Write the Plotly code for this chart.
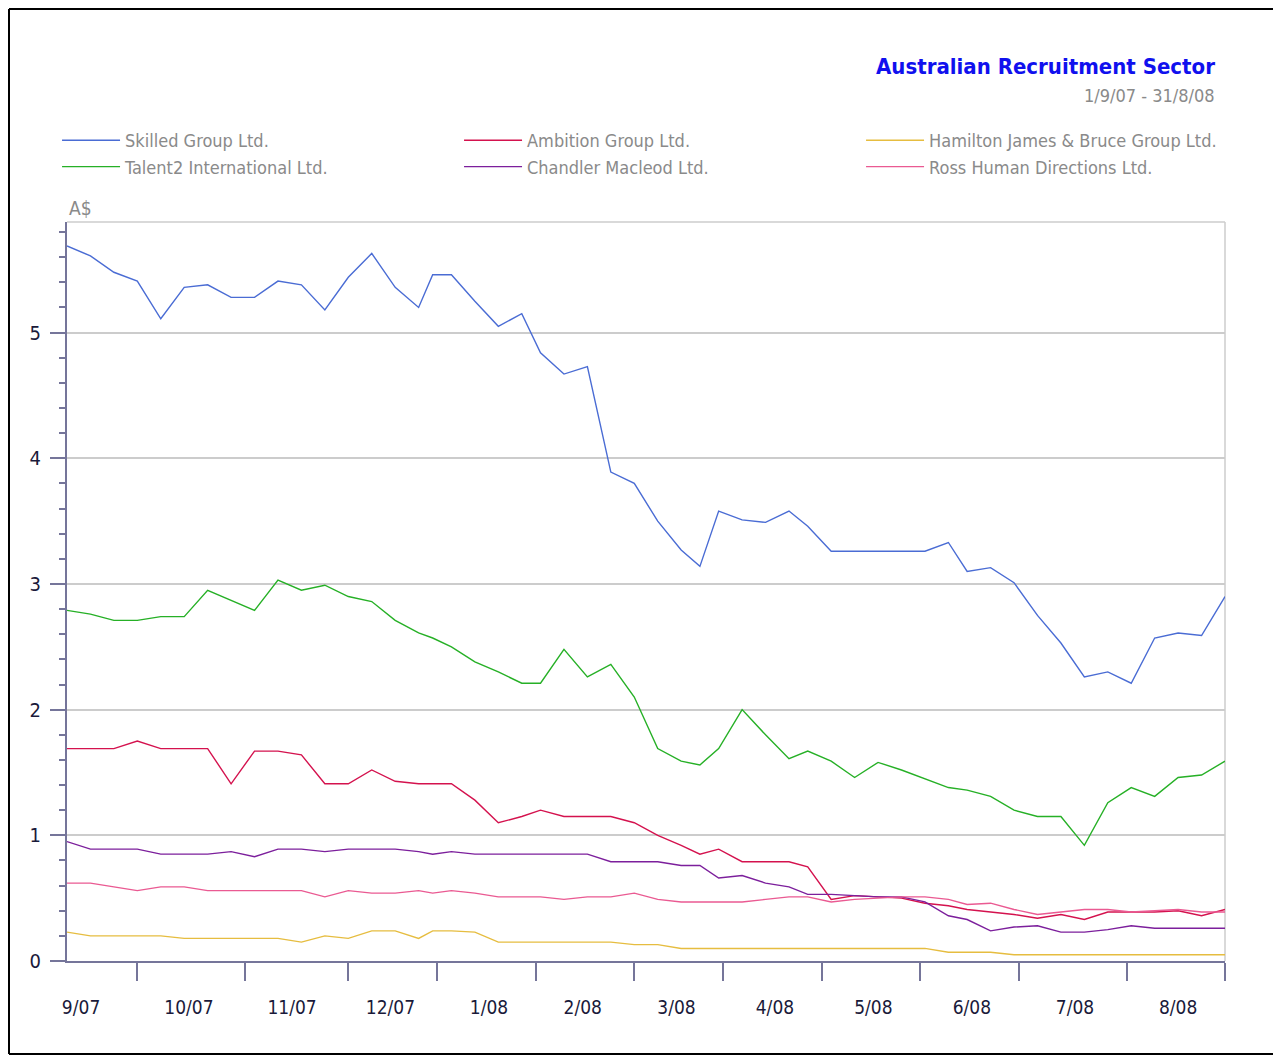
import plotly.graph_objects as go

# ---------------- data ----------------
dates = [
    "2007-09-10", "2007-09-17", "2007-09-24", "2007-10-01", "2007-10-08", "2007-10-15",
    "2007-10-22", "2007-10-29", "2007-11-05", "2007-11-12", "2007-11-19", "2007-11-26",
    "2007-12-03", "2007-12-10", "2007-12-17", "2007-12-24", "2007-12-31", "2008-01-07",
    "2008-01-14", "2008-01-21", "2008-01-29", "2008-02-04", "2008-02-11", "2008-02-18",
    "2008-02-25", "2008-03-03", "2008-03-10", "2008-03-17", "2008-03-25", "2008-03-31",
    "2008-04-07", "2008-04-14", "2008-04-21", "2008-04-28", "2008-05-05", "2008-05-12",
    "2008-05-19", "2008-05-26", "2008-06-02", "2008-06-10", "2008-06-16", "2008-06-23",
    "2008-06-30", "2008-07-07", "2008-07-14", "2008-07-21", "2008-07-28", "2008-08-04",
    "2008-08-11", "2008-08-18", "2008-08-25", "2008-09-01",
]

skilled = [5.69, 5.61, 5.48, 5.41, 5.11, 5.36, 5.38, 5.28, 5.28, 5.41, 5.38, 5.18,
           5.44, 5.63, 5.36, 5.20, 5.46, 5.46, 5.25, 5.05, 5.15, 4.84, 4.67, 4.73,
           3.89, 3.80, 3.50, 3.27, 3.14, 3.58, 3.51, 3.49, 3.58, 3.46, 3.26, 3.26,
           3.26, 3.26, 3.26, 3.33, 3.10, 3.13, 3.01, 2.75, 2.53, 2.26, 2.30, 2.21,
           2.57, 2.61, 2.59, 2.90]
talent2 = [2.79, 2.76, 2.71, 2.71, 2.74, 2.74, 2.95, 2.87, 2.79, 3.03, 2.95, 2.99,
           2.90, 2.86, 2.71, 2.61, 2.57, 2.50, 2.38, 2.30, 2.21, 2.21, 2.48, 2.26,
           2.36, 2.10, 1.69, 1.59, 1.56, 1.69, 2.00, 1.80, 1.61, 1.67, 1.59, 1.46,
           1.58, 1.52, 1.45, 1.38, 1.36, 1.31, 1.20, 1.15, 1.15, 0.92, 1.26, 1.38,
           1.31, 1.46, 1.48, 1.59]
ambition = [1.69, 1.69, 1.69, 1.75, 1.69, 1.69, 1.69, 1.41, 1.67, 1.67, 1.64, 1.41,
            1.41, 1.52, 1.43, 1.41, 1.41, 1.41, 1.28, 1.10, 1.15, 1.20, 1.15, 1.15,
            1.15, 1.10, 1.00, 0.92, 0.85, 0.89, 0.79, 0.79, 0.79, 0.75, 0.49, 0.52,
            0.51, 0.50, 0.46, 0.44, 0.41, 0.39, 0.37, 0.34, 0.37, 0.33, 0.39, 0.39,
            0.39, 0.40, 0.36, 0.41]
chandler = [0.95, 0.89, 0.89, 0.89, 0.85, 0.85, 0.85, 0.87, 0.83, 0.89, 0.89, 0.87,
            0.89, 0.89, 0.89, 0.87, 0.85, 0.87, 0.85, 0.85, 0.85, 0.85, 0.85, 0.85,
            0.79, 0.79, 0.79, 0.76, 0.76, 0.66, 0.68, 0.62, 0.59, 0.53, 0.53, 0.52,
            0.51, 0.51, 0.47, 0.36, 0.33, 0.24, 0.27, 0.28, 0.23, 0.23, 0.25, 0.28,
            0.26, 0.26, 0.26, 0.26]
ross = [0.62, 0.62, 0.59, 0.56, 0.59, 0.59, 0.56, 0.56, 0.56, 0.56, 0.56, 0.51,
        0.56, 0.54, 0.54, 0.56, 0.54, 0.56, 0.54, 0.51, 0.51, 0.51, 0.49, 0.51,
        0.51, 0.54, 0.49, 0.47, 0.47, 0.47, 0.47, 0.49, 0.51, 0.51, 0.47, 0.49,
        0.50, 0.51, 0.51, 0.49, 0.45, 0.46, 0.41, 0.37, 0.39, 0.41, 0.41, 0.39,
        0.40, 0.41, 0.39, 0.39]
hamilton = [0.23, 0.20, 0.20, 0.20, 0.20, 0.18, 0.18, 0.18, 0.18, 0.18, 0.15, 0.20,
            0.18, 0.24, 0.24, 0.18, 0.24, 0.24, 0.23, 0.15, 0.15, 0.15, 0.15, 0.15,
            0.15, 0.13, 0.13, 0.10, 0.10, 0.10, 0.10, 0.10, 0.10, 0.10, 0.10, 0.10,
            0.10, 0.10, 0.10, 0.07, 0.07, 0.07, 0.05, 0.05, 0.05, 0.05, 0.05, 0.05,
            0.05, 0.05, 0.05, 0.05]

# non-trading days (ASX holidays) removed from the time axis
holidays = ["2007-12-25", "2007-12-26", "2008-01-01", "2008-01-28",
            "2008-03-21", "2008-03-24", "2008-04-25", "2008-06-09"]

# month labels and the dates where they are centred
month_labels = ["9/07", "10/07", "11/07", "12/07", "1/08", "2/08",
                "3/08", "4/08", "5/08", "6/08", "7/08", "8/08"]
month_label_dates = ["2007-09-13", "2007-10-16", "2007-11-15", "2007-12-14",
                     "2008-01-17", "2008-02-15", "2008-03-14", "2008-04-16",
                     "2008-05-16", "2008-06-17", "2008-07-17", "2008-08-18"]

series = [
    ("Skilled Group Ltd.", skilled, "#4a6cd4"),
    ("Ambition Group Ltd.", ambition, "#d4124e"),
    ("Hamilton James & Bruce Group Ltd.", hamilton, "#e6bd40"),
    ("Talent2 International Ltd.", talent2, "#26b026"),
    ("Chandler Macleod Ltd.", chandler, "#7c1f9c"),
    ("Ross Human Directions Ltd.", ross, "#ea5a92"),
]

title_text = "Australian Recruitment Sector"
subtitle_text = "1/9/07 - 31/8/08"
unit_text = "A$"

# ---------------- layout constants ----------------
W, H = 1265, 1047
ML, MR, MT, MB = 59, 48, 214, 94
PW, PH = W - ML - MR, H - MT - MB
FONT = "DejaVu Sans Condensed, Roboto, Arial, sans-serif"
AXIS_C = "#75759a"
GRID_C = "#cccccc"

fig = go.Figure()
for name, vals, col in series:
    fig.add_trace(go.Scatter(x=dates, y=vals, name=name, mode="lines",
                             line=dict(color=col, width=1.4)))

fig.update_layout(
    width=W, height=H,
    margin=dict(l=ML, r=MR, t=MT, b=MB, pad=0),
    paper_bgcolor="white", plot_bgcolor="white",
    font=dict(family=FONT, size=18, color="#222244"),
    showlegend=True,
    legend=dict(orientation="h", x=-0.0086, y=1 + 100 / PH, xanchor="left", yanchor="top",
                entrywidth=329, entrywidthmode="pixels", itemwidth=58,
                font=dict(family=FONT, size=18, color="#8a8a8a"),
                bgcolor="rgba(0,0,0,0)", tracegroupgap=0),
    xaxis=dict(
        type="date",
        range=[dates[0], dates[-1]],
        rangebreaks=[dict(bounds=["sat", "mon"]), dict(values=holidays)],
        tickmode="array", tickvals=month_label_dates, ticktext=month_labels,
        ticks="", ticklen=0,
        minor=dict(dtick="M1", tick0="2007-09-01", ticks="outside", ticklen=18,
                   tickwidth=1.5, tickcolor=AXIS_C, showgrid=False),
        showline=True, linecolor=AXIS_C, linewidth=2,
        showgrid=False, zeroline=False,
        tickfont=dict(family=FONT, size=19, color="#1a1a3a"),
        ticklabelstandoff=28,
    ),
    yaxis=dict(
        range=[0, 5.88], dtick=1, tick0=0,
        ticks="outside", ticklen=15, tickwidth=1.5, tickcolor=AXIS_C,
        showline=True, linecolor=AXIS_C, linewidth=2,
        showgrid=True, gridcolor=GRID_C, gridwidth=1.5, zeroline=False,
        tickfont=dict(family=FONT, size=20, color="#1a1a3a"),
        ticklabelstandoff=5,
        minor=dict(dtick=0.2, ticks="outside", ticklen=6, tickwidth=1.5,
                   tickcolor=AXIS_C, showgrid=False),
    ),
)

# plot area top/right border
fig.add_shape(type="line", xref="paper", yref="paper", x0=0, x1=1, y0=1, y1=1,
              line=dict(color=GRID_C, width=1.5), layer="below")
fig.add_shape(type="line", xref="paper", yref="paper", x0=1, x1=1, y0=0, y1=1,
              line=dict(color=GRID_C, width=1.5), layer="below")

# outer frame (left, top, bottom)
fx0 = (1 - ML) / PW
fy1 = 1 + (MT - 1) / PH
fy0 = -(MB - 1) / PH
fx1 = 1 + (MR + 10) / PW
fig.add_shape(type="line", xref="paper", yref="paper", x0=fx0, x1=fx0, y0=fy0, y1=fy1,
              line=dict(color="black", width=2))
fig.add_shape(type="line", xref="paper", yref="paper", x0=fx0, x1=fx1, y0=fy1, y1=fy1,
              line=dict(color="black", width=2))
fig.add_shape(type="line", xref="paper", yref="paper", x0=fx0, x1=fx1, y0=fy0, y1=fy0,
              line=dict(color="black", width=2))

# title & subtitle, unit label
fig.add_annotation(text="<b>" + title_text + "</b>", xref="paper", yref="paper",
                   x=1 - 8 / PW, y=1 + (MT - 59) / PH, xanchor="right", yanchor="middle",
                   showarrow=False, font=dict(family=FONT, size=22, color="#1010ee"))
fig.add_annotation(text=subtitle_text, xref="paper", yref="paper",
                   x=1 - 8 / PW, y=1 + (MT - 87) / PH, xanchor="right", yanchor="middle",
                   showarrow=False, font=dict(family=FONT, size=18, color="#8a8a8a"))
fig.add_annotation(text=unit_text, xref="paper", yref="paper",
                   x=0, y=1 + 14 / PH, xanchor="left", yanchor="middle",
                   showarrow=False, font=dict(family=FONT, size=19, color="#8a8a8a"))

fig.write_html("out.html")
